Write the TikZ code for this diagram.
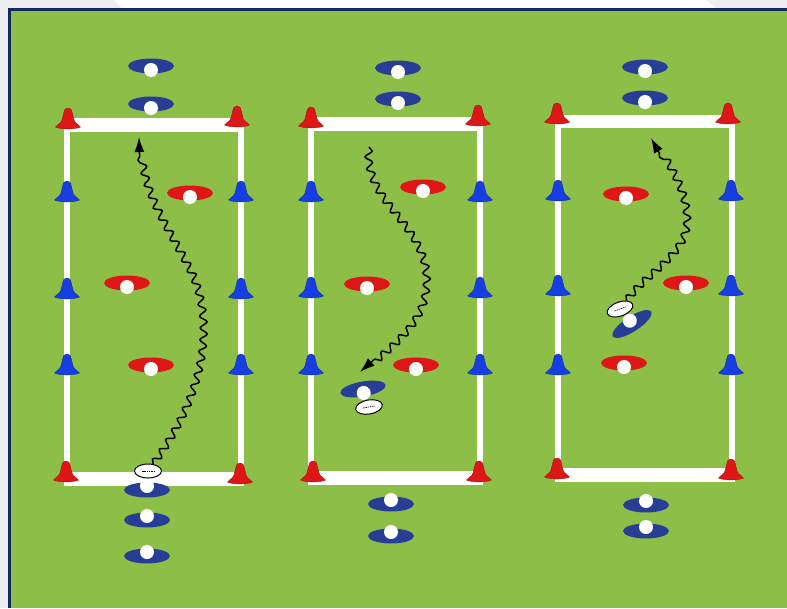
\documentclass[tikz,border=0pt]{standalone}
\usepackage{tikz}
\usetikzlibrary{arrows.meta,shapes.geometric,decorations.pathmorphing}

\definecolor{pitch}{RGB}{141,190,72}
\definecolor{navy}{RGB}{18,42,96}
\definecolor{paper}{RGB}{238,238,238}
\definecolor{teamblue}{RGB}{40,62,150}
\definecolor{teamred}{RGB}{222,22,22}
\definecolor{coneblue}{RGB}{22,62,225}

\begin{document}
\begin{tikzpicture}[
    x=1pt, y=-1pt,
    court/.style={fill=white},
    ball/.style={ellipse, draw, fill=white, line width=1pt, minimum width=27pt, minimum height=14pt, inner sep=0pt,
        path picture={\draw[line width=0.6pt, dash pattern=on 1.5pt off 0.8pt] ([xshift=-6pt]path picture bounding box.center) -- ([xshift=6pt]path picture bounding box.center);}},
    run/.style={-{Latex[length=15pt, width=10pt]}, line width=1.5pt, decorate,
        decoration={snake, amplitude=3.5pt, segment length=12pt, post length=15pt}},
    pics/cone/.style={code={
        \fill[#1, draw=#1!75!black, line width=0.4pt] (-12.5,0) .. controls (-11,-3) and (-7,-3) .. (-6,-7) -- (-3.5,-17) .. controls (-2,-19.5) and (2,-19.5) .. (3.5,-17) -- (6,-7) .. controls (7,-3) and (11,-3) .. (12.5,0) .. controls (8,2.5) and (-8,2.5) .. (-12.5,0) -- cycle;
    }},
    pics/player/.style={code={
        \node[ellipse, fill=#1, minimum width=46pt, minimum height=15pt, inner sep=0pt, transform shape] (-body) {};
        \fill[white] (0,4) circle[radius=7];
    }}
]
\useasboundingbox (0,0) rectangle (787,608);
\fill[paper] (0,0) rectangle (787,608);
\fill[white] (114,0) -- (706,0) -- (716,8) -- (122,8) -- cycle;
\fill[pitch] (8,8) rectangle (787,608);
\draw[navy, line width=3.5pt] (9.5,608) -- (9.5,9.5) -- (787,9.5);

% grids
\fill[court] (64,118) rectangle (244,132);
\fill[court] (64,472) rectangle (244,486);
\fill[court] (64,118) rectangle (70,486);
\fill[court] (238,118) rectangle (244,486);

\fill[court] (308,117) rectangle (483,131);
\fill[court] (308,471) rectangle (483,485);
\fill[court] (308,117) rectangle (314,485);
\fill[court] (477,117) rectangle (483,485);

\fill[court] (555,115) rectangle (735,128);
\fill[court] (555,468) rectangle (735,482);
\fill[court] (555,115) rectangle (561,482);
\fill[court] (729,115) rectangle (735,482);

% cones
\pic at (68,127) {cone=teamred};
\pic at (237,125) {cone=teamred};
\pic at (66,480) {cone=teamred};
\pic at (240,482) {cone=teamred};
\pic at (311,126) {cone=teamred};
\pic at (478,124) {cone=teamred};
\pic at (313,480) {cone=teamred};
\pic at (479,480) {cone=teamred};
\pic at (557,122) {cone=teamred};
\pic at (728,122) {cone=teamred};
\pic at (557,477) {cone=teamred};
\pic at (731,478) {cone=teamred};
\foreach \y in {200,297,373} {
    \pic at (67,\y) {cone=coneblue};
    \pic at (241,\y) {cone=coneblue};
}
\foreach \y in {200,296,373} {
    \pic at (311,\y) {cone=coneblue};
    \pic at (480,\y) {cone=coneblue};
}
\foreach \y in {199,294,373} {
    \pic at (558,\y) {cone=coneblue};
    \pic at (731,\y) {cone=coneblue};
}

% players
\pic (topA1) at (151,66) {player=teamblue};
\pic (topA2) at (151,104) {player=teamblue};
\pic[rotate=180] (botA1) at (147,490) {player=teamblue};
\pic[rotate=180] (botA2) at (147,520) {player=teamblue};
\pic[rotate=180] (botA3) at (147,556) {player=teamblue};
\pic (defA1) at (190,193) {player=teamred};
\pic (defA2) at (127,283) {player=teamred};
\pic (defA3) at (151,365) {player=teamred};

\pic (topB1) at (398,68) {player=teamblue};
\pic (topB2) at (398,99) {player=teamblue};
\pic[rotate=180] (botB1) at (391,504) {player=teamblue};
\pic[rotate=180] (botB2) at (391,536) {player=teamblue};
\pic (defB1) at (423,187) {player=teamred};
\pic (defB2) at (367,284) {player=teamred};
\pic (defB3) at (416,365) {player=teamred};
\pic[rotate=10] (attB) at (363,389) {player=teamblue};

\pic (topC1) at (645,67) {player=teamblue};
\pic (topC2) at (645,98) {player=teamblue};
\pic[rotate=180] (botC1) at (646,505) {player=teamblue};
\pic[rotate=180] (botC2) at (646,531) {player=teamblue};
\pic (defC1) at (626,194) {player=teamred};
\pic (defC2) at (686,283) {player=teamred};
\pic (defC3) at (624,363) {player=teamred};
\pic[rotate=213] (attC) at (632,324) {player=teamblue};

% balls and runs
\node[ball] (ballA) at (148,471) {};
\node[ball, rotate=10] (ballB) at (369,407) {};
\node[ball, rotate=20] (ballC) at (620,309) {};

\coordinate (tipA) at (139,137);
\coordinate (startB) at (369,147);
\coordinate (tipB) at (360,372);
\coordinate (tipC) at (651,138);

\draw[run] (ballA) .. controls (200,400) and (215,330) .. (190,275) .. controls (165,225) and (138,195) .. (tipA);
\draw[run] (startB) .. controls (365,200) and (425,220) .. (427,275) .. controls (428,320) and (395,340) .. (tipB);
\draw[run] (ballC) .. controls (650,270) and (690,255) .. (685,215) .. controls (682,185) and (665,165) .. (tipC);
\end{tikzpicture}
\end{document}
